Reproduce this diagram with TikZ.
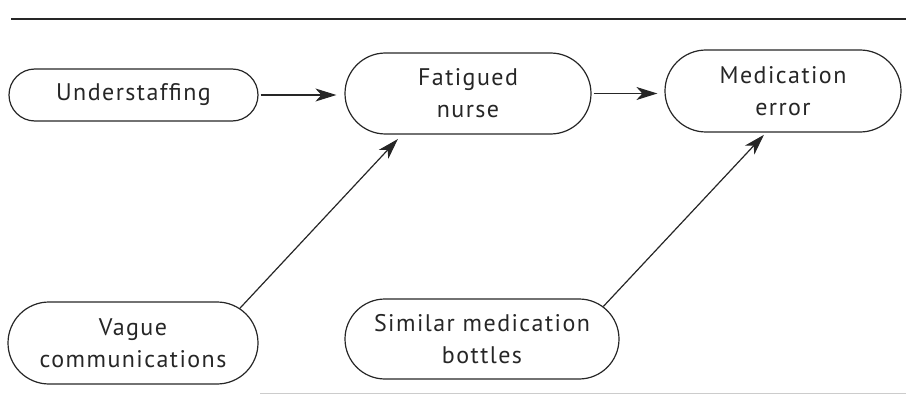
\documentclass[tikz,border=0pt]{standalone}
\usepackage{fontspec}
\setmainfont{PT Sans}[LetterSpace=6]
\usetikzlibrary{shapes.misc,arrows.meta}
\begin{document}
\begin{tikzpicture}[x=1pt,y=-1pt,
  box/.style={rounded rectangle, draw=black!85, line width=1.2pt, align=center,
    inner sep=0pt, text=black!85,
    font=\fontsize{24}{32}\selectfont},
  conn/.style={draw=black!85, line width=1.2pt, -{Stealth[length=21pt,width=13pt,inset=6pt]}}]
\useasboundingbox (0,0) rectangle (906,396);
\draw[black!85, line width=1.2pt] (11,19) -- (906,19);
\draw[black!20, line width=1pt] (260,393) -- (906,393);
\node[box, minimum width=249pt, minimum height=52pt] (under) at (133.5,95) {Understaffing};
\node[box, minimum width=246pt, minimum height=81pt] (fat) at (468,93.5) {Fatigued\\nurse};
\node[box, minimum width=236pt, minimum height=82pt] (med) at (783,91) {Medication\\error};
\node[box, minimum width=250pt, minimum height=82pt] (vague) at (133,343) {Vague\\communications};
\node[box, minimum width=274pt, minimum height=80pt] (sim) at (482,339) {Similar medication\\bottles};
\draw[conn, shorten <=2pt, shorten >=8pt] (under.east) -- (under.east -| fat.west);
\draw[conn, shorten <=2pt, shorten >=7pt] (fat.east) -- (fat.east -| med.west);
\draw[conn, shorten >=6pt] (vague.18) -- ([xshift=-66pt]fat.south);
\draw[conn, shorten >=3pt] (sim.15) -- ([xshift=-17pt]med.south);
\end{tikzpicture}
\end{document}
